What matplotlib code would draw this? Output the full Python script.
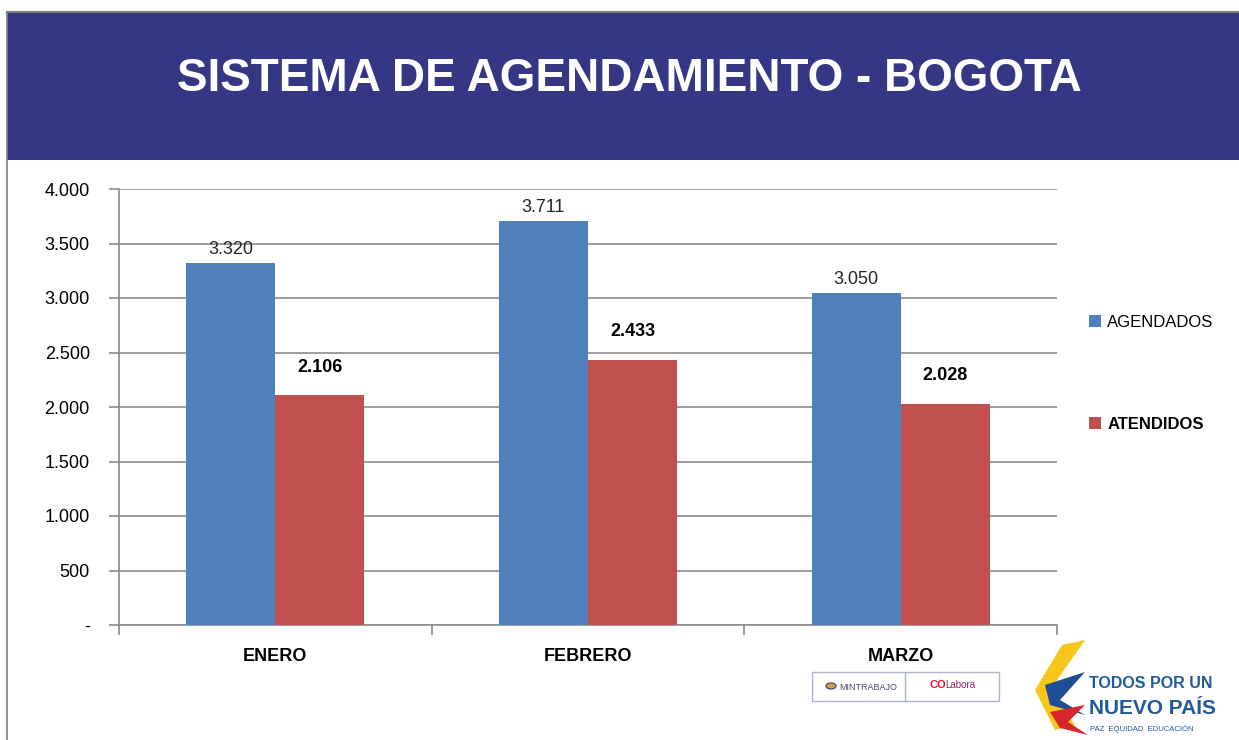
import numpy as np
import matplotlib.pyplot as plt
from matplotlib.patches import Rectangle, Polygon, Circle

# Data
meses = ['ENERO', 'FEBRERO', 'MARZO']
agendados = [3320, 3711, 3050]
atendidos = [2106, 2433, 2028]
yticks = [0, 500, 1000, 1500, 2000, 2500, 3000, 3500, 4000]
ytick_labels = ['-', '500', '1.000', '1.500', '2.000', '2.500', '3.000', '3.500', '4.000']

plt.rcParams['font.family'] = ['Liberation Sans', 'DejaVu Sans']
blue = '#4f81bd'
red = '#c0504d'
grid = '#8c8c8c'

W, H = 1239, 740
fig = plt.figure(figsize=(W / 100, H / 100), dpi=100)

def fx(px):
    return px / W

def fy(py):
    return 1 - py / H

# title band + frame
fig.patches.append(Rectangle((fx(7), fy(160)), 1 - fx(7), fy(12) - fy(160),
                             transform=fig.transFigure, facecolor='#353684',
                             edgecolor='none', zorder=0))
fig.add_artist(plt.Line2D([fx(7), 1], [fy(12), fy(12)], color='#7f7f7f', lw=1.5))
fig.add_artist(plt.Line2D([fx(7), fx(7)], [0, fy(12)], color='#7f7f7f', lw=1.2))
fig.text(fx(629), fy(79), 'SISTEMA DE AGENDAMIENTO - BOGOTA', color='white',
         fontsize=33, fontweight='bold', ha='center', va='center')

# chart
ax = fig.add_axes([fx(119), fy(625), fx(1057) - fx(119), fy(189) - fy(625)])
x = np.arange(len(meses))
w = 0.285
ax.bar(x - w / 2, agendados, w, color=blue, zorder=3, label='AGENDADOS')
ax.bar(x + w / 2, atendidos, w, color=red, zorder=3, label='ATENDIDOS')

for xi, v in zip(x, agendados):
    ax.text(xi - w / 2, v + 45, f'{v:,}'.replace(',', '.'), ha='center', va='bottom',
            fontsize=13, color='#262626')
for xi, v in zip(x, atendidos):
    ax.text(xi + w / 2, v + 180, f'{v:,}'.replace(',', '.'), ha='center', va='bottom',
            fontsize=13, fontweight='bold', color='black')

ax.set_xlim(-0.5, len(meses) - 0.5)
ax.set_ylim(0, 4000)
ax.set_yticks(yticks)
ax.set_yticklabels(ytick_labels, fontsize=13)
ax.yaxis.grid(True, color=grid, lw=1.2, zorder=0)
ax.tick_params(axis='y', direction='out', length=7, color=grid, width=1.2, pad=14)
ax.set_xticks(np.arange(-0.5, len(meses), 1))
ax.set_xticklabels([])
ax.tick_params(axis='x', direction='out', length=7, color=grid, width=1.2)
for xi, m in zip(x, meses):
    ax.text(xi, -0.073, m, transform=ax.get_xaxis_transform(), ha='center', va='center',
            fontsize=13, fontweight='bold')
for s in ['top', 'right']:
    ax.spines[s].set_visible(False)
for s in ['left', 'bottom']:
    ax.spines[s].set_color(grid)
    ax.spines[s].set_linewidth(1.2)

leg = ax.legend(loc='upper left', bbox_to_anchor=(fx(1074), fy(300)),
                bbox_transform=fig.transFigure, frameon=False, fontsize=12,
                handlelength=0.7, handleheight=0.7, handletextpad=0.4,
                labelspacing=5.2)
leg.get_texts()[1].set_fontweight('bold')

# logos (approximate)
fig.patches.append(Rectangle((fx(812), fy(701)), fx(999) - fx(812), fy(672) - fy(701),
                             transform=fig.transFigure, facecolor='white',
                             edgecolor='#aab4cc', lw=1))
fig.add_artist(plt.Line2D([fx(905), fx(905)], [fy(701), fy(672)], color='#aab4cc', lw=1))
fig.patches.append(Circle((fx(831), fy(686)), fx(5), transform=fig.transFigure,
                          facecolor='#c9a640', edgecolor='#5a4c8a', lw=1))
fig.text(fx(839), fy(687), 'MINTRABAJO', fontsize=6.5, color='#4a4a6a', va='center')
fig.text(fx(929), fy(685), 'CO', fontsize=8, color='#e3102d', va='center', fontweight='bold')
fig.text(fx(945), fy(685), 'Labora', fontsize=7, color='#8a2a6a', va='center')

fig.patches.append(Polygon([(fx(1062), fy(645)), (fx(1085), fy(640)), (fx(1050), fy(690)),
                            (fx(1075), fy(725)), (fx(1055), fy(730)), (fx(1035), fy(690))],
                           closed=True, transform=fig.transFigure, facecolor='#f6c619',
                           edgecolor='none'))
fig.patches.append(Polygon([(fx(1045), fy(685)), (fx(1085), fy(672)), (fx(1060), fy(700)),
                            (fx(1085), fy(715)), (fx(1050), fy(705))],
                           closed=True, transform=fig.transFigure, facecolor='#1f4e96',
                           edgecolor='none'))
fig.patches.append(Polygon([(fx(1050), fy(712)), (fx(1085), fy(705)), (fx(1068), fy(722)),
                            (fx(1088), fy(735)), (fx(1060), fy(728))],
                           closed=True, transform=fig.transFigure, facecolor='#d8262e',
                           edgecolor='none'))
fig.text(fx(1089), fy(683), 'TODOS POR UN', fontsize=11.5, fontweight='bold',
         color='#1f5a9a', va='center')
fig.text(fx(1089), fy(708), 'NUEVO PAÍS', fontsize=15, fontweight='bold',
         color='#1f5a9a', va='center')
fig.text(fx(1090), fy(729), 'PAZ  EQUIDAD  EDUCACIÓN', fontsize=5.5,
         color='#1f5a9a', va='center')

fig.savefig('out.png', dpi=100)
